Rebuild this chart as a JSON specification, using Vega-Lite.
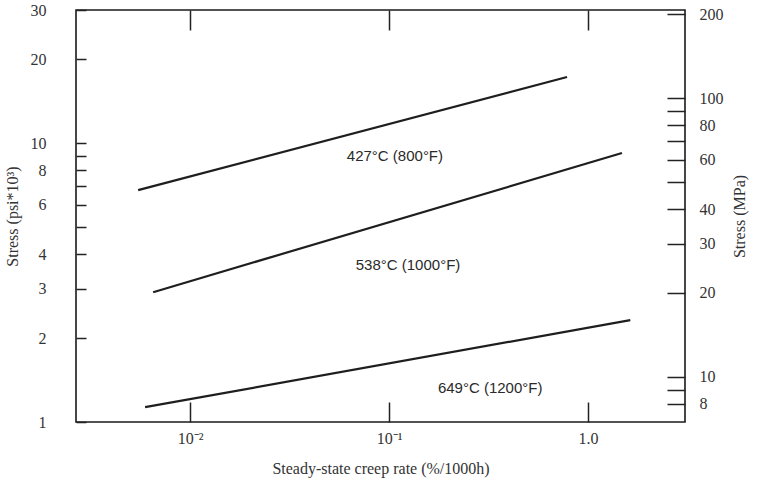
{
  "$schema": "https://vega.github.io/schema/vega-lite/v6.json",
  "width": 609,
  "height": 412,
  "autosize": "none",
  "padding": {"left": 76, "top": 10, "right": 75, "bottom": 64},
  "background": "white",
  "config": {
    "view": {"stroke": "#1a1a1a", "strokeWidth": 1.6},
    "axis": {
      "grid": false, "domain": false,
      "labelFont": "Liberation Serif", "titleFont": "Liberation Serif",
      "labelFontSize": 16, "titleFontSize": 16, "labelColor": "#333", "titleColor": "#333",
      "titleFontWeight": "normal", "tickColor": "#222", "tickWidth": 1.5
    }
  },
  "datasets": {
    "lines": [
      {"series": "427", "rate": 0.00548, "ksi": 6.78, "mpa": 46.7},
      {"series": "427", "rate": 0.784, "ksi": 17.25, "mpa": 118.9},
      {"series": "538", "rate": 0.00652, "ksi": 2.92, "mpa": 20.1},
      {"series": "538", "rate": 1.48, "ksi": 9.21, "mpa": 63.5},
      {"series": "649", "rate": 0.00594, "ksi": 1.13, "mpa": 7.8},
      {"series": "649", "rate": 1.63, "ksi": 2.32, "mpa": 16.0}
    ],
    "labels": [
      {"text": "427°C (800°F)", "rate": 0.107, "ksi": 8.98},
      {"text": "538°C (1000°F)", "rate": 0.1245, "ksi": 3.65},
      {"text": "649°C (1200°F)", "rate": 0.322, "ksi": 1.32}
    ]
  },
  "layer": [
    {
      "data": {"name": "lines"},
      "mark": {"type": "line", "color": "#1e1e1e", "strokeWidth": 2.2},
      "encoding": {
        "x": {"field": "rate", "type": "quantitative",
          "scale": {"type": "log", "domain": [0.00267, 3.07], "nice": false},
          "axis": {"orient": "top", "values": [0.01, 0.1, 1], "labels": false, "title": null, "tickSize": -20}},
        "y": {"field": "ksi", "type": "quantitative",
          "scale": {"type": "log", "domain": [1, 30], "nice": false},
          "axis": {"orient": "left", "values": [1, 2, 3, 4, 5, 6, 7, 8, 9, 10, 20, 30],
            "labelExpr": "indexof([5,7,9], datum.value) >= 0 ? '' : datum.label",
            "tickSize": -10, "labelPadding": 40, "title": "Stress (psi*10³)", "titlePadding": 10}},
        "detail": {"field": "series"}
      }
    },
    {
      "data": {"name": "labels"},
      "mark": {"type": "text", "font": "Liberation Sans", "fontSize": 15, "color": "#2a2a2a", "align": "center", "baseline": "middle"},
      "encoding": {
        "x": {"field": "rate", "type": "quantitative", "scale": {"type": "log", "domain": [0.00267, 3.07], "nice": false},
          "axis": {"orient": "bottom", "values": [0.01, 0.1, 1], "tickSize": -20, "labelPadding": 28,
            "labelExpr": "datum.value < 0.05 ? '10⁻²' : datum.value < 0.5 ? '10⁻¹' : '1.0'",
            "title": "Steady-state creep rate (%/1000h)", "titlePadding": 14}},
        "y": {"field": "ksi", "type": "quantitative", "scale": {"type": "log", "domain": [1, 30], "nice": false}, "axis": null},
        "text": {"field": "text"}
      }
    },
    {
      "data": {"name": "lines"},
      "mark": {"type": "line", "opacity": 0},
      "encoding": {
        "x": {"field": "rate", "type": "quantitative", "scale": {"type": "log", "domain": [0.00267, 3.07], "nice": false}, "axis": null},
        "y": {"field": "mpa", "type": "quantitative",
          "scale": {"type": "log", "domain": [6.895, 206.84], "nice": false},
          "axis": {"orient": "right", "values": [8, 9, 10, 20, 30, 40, 50, 60, 70, 80, 90, 100, 200],
            "labelExpr": "indexof([9,50,70,90], datum.value) >= 0 ? '' : datum.label",
            "tickSize": -18, "labelPadding": 32, "title": "Stress (MPa)", "titleAngle": -90, "titlePadding": 24}},
        "detail": {"field": "series"}
      }
    }
  ],
  "resolve": {"scale": {"y": "independent"}}
}
